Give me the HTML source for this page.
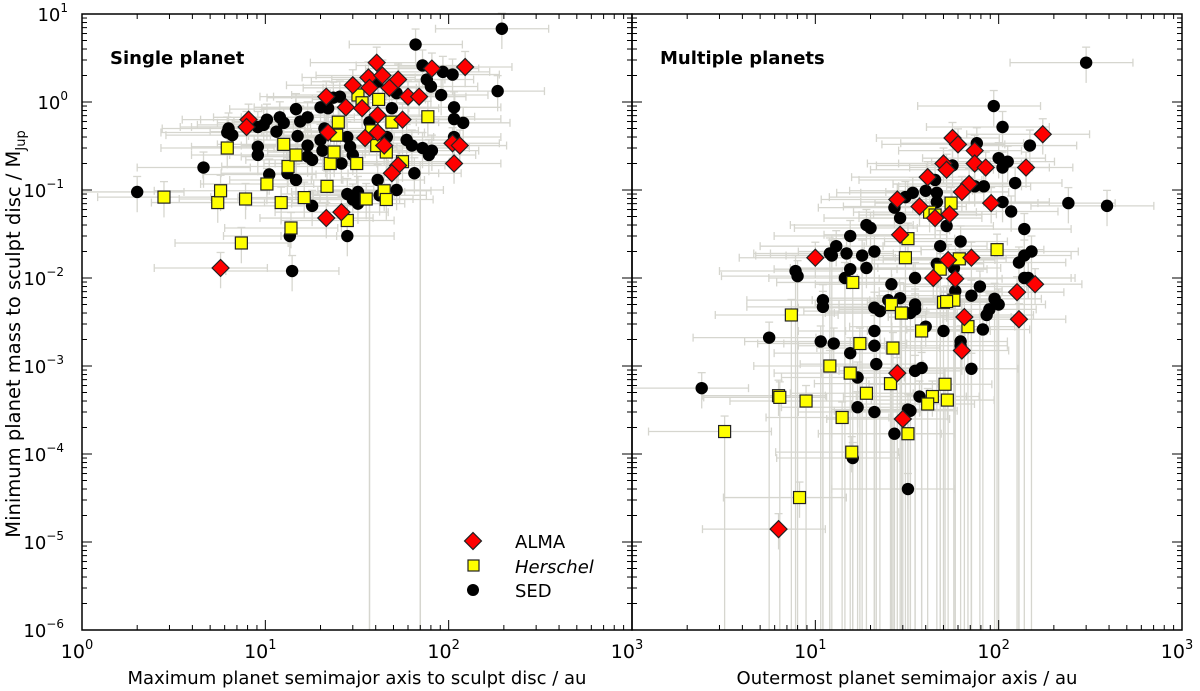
<!DOCTYPE html>
<html><head><meta charset="utf-8"><style>
html,body{margin:0;padding:0;background:#fff;}
svg{display:block;font-family:"DejaVu Sans","Liberation Sans",sans-serif;}
</style></head><body>
<svg id="chart" width="1200" height="691" viewBox="0 0 1200 691">
<g id="errs"></g>
<g id="marks"></g>
<g id="axes"></g>
<text x="110" y="64" font-size="18" font-weight="bold">Single planet</text>
<text x="660" y="64" font-size="18" font-weight="bold">Multiple planets</text>
<text x="357" y="684" font-size="18" text-anchor="middle">Maximum planet semimajor axis to sculpt disc / au</text>
<text x="907" y="684" font-size="18" text-anchor="middle">Outermost planet semimajor axis / au</text>
<text transform="translate(20,334) rotate(-90)" font-size="19.5" text-anchor="middle">Minimum planet mass to sculpt disc / M<tspan font-size="13" dy="5">Jup</tspan></text>
<g>
  <g><rect x="467" y="535" width="12" height="12" transform="rotate(45 473 541)" fill="#f00" stroke="#222" stroke-width="1.2"/><text x="515" y="548" font-size="18">ALMA</text></g>
  <g><rect x="468" y="560" width="11" height="11" fill="#ff0" stroke="#222" stroke-width="1.2"/><text x="515" y="573" font-size="18" font-style="italic">Herschel</text></g>
  <g><circle cx="473" cy="590" r="6" fill="#000"/><text x="515" y="597" font-size="18">SED</text></g>
</g>
</svg>
<script>
// Left panel (single planet): semimajor axis (au), mass (M_Jup)
const leftSedA=[195,66,185,2.0,4.6,14,28,13.6,18,52,41,65,72,93,105,76,80,91,107,107,120,107,49,37,59,63,72,78,81,46,28,29,30,26,21,20,20.5,17,18,17,20,22,25.5,23.5,14.7,15.5,17,12,12.6,11.5,15,13.2,10.5,14.7,9.1,9.1,10.2,9.1,9.8,6.3,6.6,6.2,41,52,28,30,32,32,42];
const leftSedM=[6.8,4.5,1.33,0.095,0.18,0.012,0.03,0.03,0.066,0.1,0.13,0.155,2.6,2.2,2.05,1.8,1.5,1.2,0.87,0.64,0.58,0.4,0.85,0.59,0.37,0.32,0.3,0.25,0.28,0.4,0.4,0.31,0.25,0.2,0.5,0.37,0.28,0.24,0.22,0.32,0.87,0.85,1.15,1.12,0.83,0.6,0.67,0.67,0.58,0.46,0.41,0.155,0.15,0.13,0.31,0.25,0.63,0.52,0.55,0.5,0.42,0.45,1.7,1.26,0.09,0.078,0.095,0.07,0.087];
const leftHerA=[2.8,5.5,5.7,7.8,7.4,6.2,10.2,12.2,12.6,13.3,14.7,13.8,16.3,21.7,22.6,23.7,24.5,25,28,31.5,32,33.7,35.5,38,40.5,41.5,44.5,45.7,45.7,49,56,77];
const leftHerM=[0.083,0.072,0.098,0.079,0.025,0.3,0.117,0.072,0.33,0.185,0.25,0.037,0.082,0.11,0.2,0.27,0.42,0.59,0.045,0.2,1.2,0.98,0.079,0.47,0.32,1.07,0.098,0.078,0.27,0.59,0.21,0.68];
const leftAlmaA=[5.7,8.1,7.9,21.5,22,21.5,26,27.5,30,33.7,35,36.5,37,40.5,43.5,41,41,44.5,47.5,53,56,60,69,53,49,81,123,105,115,107];
const leftAlmaM=[0.013,0.63,0.52,1.15,0.45,0.048,0.056,0.87,1.55,0.85,0.39,1.9,1.45,2.8,2.0,0.71,0.45,0.32,1.45,1.8,0.63,1.15,1.15,0.19,0.155,2.4,2.5,0.34,0.32,0.2];
// Right panel (multiple planets)
const rightSedA=[94,105,240,76,148,100,112,105,56,45,40,46,46,74,83,123,105,117,138,34,31,27,29,52,19,20,15.5,13,12,12.3,14.8,18,21,19,7.8,8,15.5,14.5,48,62,46,57,35,26,151,138,129,138,145,79,71,58,95,100,89,11,11,25,29,35,21,300,390,2.4,5.6,10.7,12.6,15.5,17,17,21,21,21,21.5,16,32,38,35,37,32,33,40,50,62,62,71,82,86,22.5,27,35,33];
const rightSedM=[0.9,0.52,0.071,0.34,0.32,0.23,0.21,0.18,0.19,0.13,0.098,0.093,0.073,0.11,0.11,0.12,0.073,0.057,0.036,0.093,0.083,0.063,0.048,0.039,0.04,0.037,0.03,0.023,0.019,0.018,0.019,0.018,0.02,0.013,0.012,0.0105,0.0126,0.01,0.023,0.026,0.0145,0.013,0.01,0.0085,0.02,0.018,0.015,0.010,0.010,0.008,0.0063,0.0071,0.0058,0.005,0.0044,0.0056,0.0047,0.0056,0.0059,0.005,0.0046,2.8,0.066,5.6e-4,2.1e-3,1.9e-3,1.8e-3,1.4e-3,7.4e-4,3.4e-4,3.0e-4,2.5e-3,1.7e-3,1.05e-3,9e-5,4e-5,9.5e-4,8.8e-4,4.5e-4,3.2e-4,3.1e-4,2.8e-3,2.5e-3,1.9e-3,1.7e-3,9.3e-4,2.6e-3,3.8e-3,4.2e-3,1.7e-4,4.4e-3,4e-3];
const rightHerA=[55,42,45,32,31,98,61,48,16,50,57,26,29.5,7.4,3.2,6.3,6.4,8.9,8.2,12,14,15.5,17.5,19,15.8,26.5,25.7,26,29.5,38,43.5,41,51,52.5,68,32,52];
const rightHerM=[0.071,0.056,0.052,0.028,0.017,0.021,0.0165,0.0126,0.0089,0.0053,0.0056,0.005,0.004,0.0038,1.8e-4,4.6e-4,4.4e-4,4e-4,3.2e-5,1.0e-3,2.6e-4,8.3e-4,1.8e-3,4.9e-4,1.05e-4,1.6e-3,6.3e-4,5e-3,4e-3,2.5e-3,4.5e-4,3.7e-4,6.2e-4,4.1e-4,2.8e-3,1.7e-4,0.0054];
const rightAlmaA=[174,56,60,74,50,52,74,85,141,41,69,63,28,37,45,54,91,29,10,53,71,44,58,126,158,65,129,63,28,30,6.3];
const rightAlmaM=[0.43,0.39,0.33,0.28,0.2,0.17,0.2,0.18,0.18,0.14,0.117,0.095,0.078,0.065,0.048,0.053,0.071,0.031,0.017,0.016,0.017,0.01,0.0098,0.0069,0.0085,0.0036,0.0034,0.0015,8.3e-4,2.5e-4,1.4e-5];

const NS='http://www.w3.org/2000/svg';
const panels=[{x0:82,x1:632},{x0:632,x1:1182}];
const Y0=14,Y1=630,DEC=(632-82)/3;
function xs(p,v){return panels[p].x0+Math.log10(v)*DEC;}
function ys(v){return Y0+(1-Math.log10(v))*(Y1-Y0)/7;}
function mk(tag,attrs,parent){const e=document.createElementNS(NS,tag);for(const k in attrs)e.setAttribute(k,attrs[k]);parent.appendChild(e);return e;}
const errs=document.getElementById('errs'),marks=document.getElementById('marks'),axes=document.getElementById('axes');
const EC='#d6d6cf';
function errorBar(p,a,m,i){
  const f=p?2.6:2.3;
  const xl=Math.max(panels[p].x0,xs(p,a/f)),xr=Math.min(panels[p].x1,xs(p,a*1.8));
  const yt=ys(m*1.5);
  let yb=Math.min(Y1,ys(m/1.7));
  if(p===1&&m<0.03&&i%3!==0)yb=Y1;
  const cx=xs(p,a),cy=ys(m);
  const g=mk('g',{stroke:EC,'stroke-width':1.3,fill:'none'},errs);
  
  
  mk('line',{x1:xl,y1:cy,x2:xr,y2:cy},g);
  mk('line',{x1:cx,y1:yt,x2:cx,y2:yb},g);
  mk('line',{x1:xl,y1:cy-4,x2:xl,y2:cy+4},g);
  mk('line',{x1:xr,y1:cy-4,x2:xr,y2:cy+4},g);
  mk('line',{x1:cx-4,y1:yt,x2:cx+4,y2:yt},g);
}
function drawSeries(p,A,M,type){
  A.forEach((a,i)=>errorBar(p,a,M[i],i));
}
function drawMarks(p,A,M,type){
  A.forEach((a,i)=>{
    const x=xs(p,a),y=ys(M[i]);let e;
    if(type==='sed'){e=mk('circle',{cx:x,cy:y,r:6.2,fill:'#000'},marks);}
    else if(type==='her'){e=mk('rect',{x:x-6,y:y-6,width:12,height:12,fill:'#ff0',stroke:'#222','stroke-width':1.2},marks);}
    else {e=mk('rect',{x:x-6,y:y-6,width:12,height:12,fill:'#f00',stroke:'#222','stroke-width':1.2,transform:`rotate(45 ${x} ${y})`},marks);}
    
    
  });
}
const sets=[[0,leftSedA,leftSedM,'sed'],[0,leftHerA,leftHerM,'her'],[0,leftAlmaA,leftAlmaM,'alma'],
            [1,rightSedA,rightSedM,'sed'],[1,rightHerA,rightHerM,'her'],[1,rightAlmaA,rightAlmaM,'alma']];
sets.forEach(s=>drawSeries(...s));
// two long lower-limit bars in the left panel
[[37,0.079],[70,0.21]].forEach(([a,m])=>{
  const l=mk('line',{x1:xs(0,a),y1:ys(m),x2:xs(0,a),y2:Y1,stroke:EC,'stroke-width':1.5},errs);
  
  
});
sets.forEach(s=>drawMarks(...s));

// axes
const xTickLabels=['0','1','2','3'];
const yTickExps=['1','0','-1','-2','-3','-4','-5','-6'];
panels.forEach((P,p)=>{
  const fr=mk('rect',{x:P.x0,y:Y0,width:P.x1-P.x0,height:Y1-Y0,fill:'none',stroke:'#000','stroke-width':1.5},axes);
  
  
  for(let d=0;d<3;d++)for(let k=1;k<10;k++){
    const x=P.x0+(d+Math.log10(k))*DEC; const L=k===1?10:5;
    if(k===1&&d===0)continue;
    mk('line',{x1:x,y1:Y1,x2:x,y2:Y1-L,stroke:'#000','stroke-width':1},axes);
    mk('line',{x1:x,y1:Y0,x2:x,y2:Y0+L,stroke:'#000','stroke-width':1},axes);
  }
  for(let d=0;d<7;d++)for(let k=1;k<10;k++){
    const y=ys(Math.pow(10,-6+d)*k); const L=k===1?10:5;
    mk('line',{x1:P.x0,y1:y,x2:P.x0+L,y2:y,stroke:'#000','stroke-width':1},axes);
    mk('line',{x1:P.x1,y1:y,x2:P.x1-L,y2:y,stroke:'#000','stroke-width':1},axes);
  }
  xTickLabels.forEach((e,i)=>{
    if(p===1&&i===0)return;
    const t=mk('text',{x:P.x0+i*DEC-5,y:658,'font-size':19,'text-anchor':'middle'},axes);
    
    
    t.innerHTML='10<tspan font-size="13" dy="-9">'+e+'</tspan>';
  });
});
yTickExps.forEach(e=>{
  const y=ys(Math.pow(10,+e));
  const t=mk('text',{x:e.length>1?64:68,y:y+7,'font-size':18,'text-anchor':'end'},axes);
  
  
  t.innerHTML='10<tspan font-size="12" dy="-9">'+(e.startsWith('-')?'\u2212'+e.slice(1):e)+'</tspan>';
});
</script>
</body></html>
